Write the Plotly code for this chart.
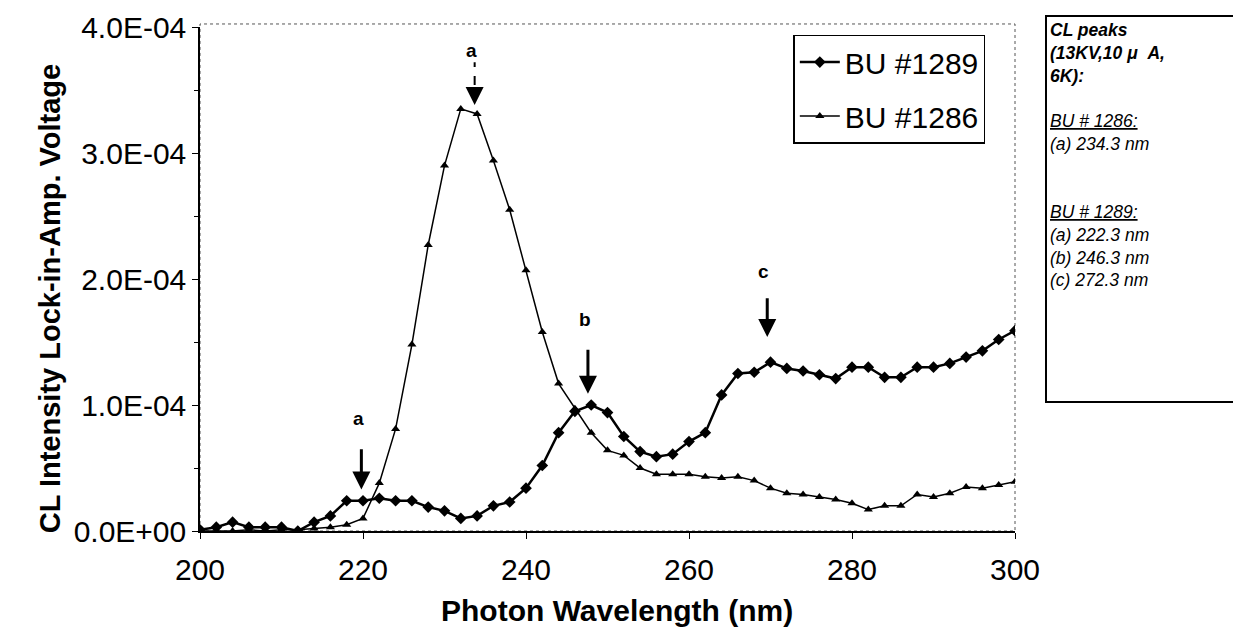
import plotly.graph_objects as go

wavelength = [200, 202, 204, 206, 208, 210, 212, 214, 216, 218, 220, 222, 224, 226, 228,
              230, 232, 234, 236, 238, 240, 242, 244, 246, 248, 250, 252, 254, 256, 258,
              260, 262, 264, 266, 268, 270, 272, 274, 276, 278, 280, 282, 284, 286, 288,
              290, 292, 294, 296, 298, 300]

# values in units of 1e-5 V
bu1289 = [0.1, 0.3, 0.7, 0.3, 0.3, 0.3, 0.0, 0.7, 1.2, 2.4, 2.4, 2.6, 2.4, 2.4, 1.9,
          1.6, 1.0, 1.2, 2.0, 2.3, 3.4, 5.2, 7.8, 9.5, 10.0, 9.4, 7.5, 6.3, 5.9, 6.1,
          7.1, 7.8, 10.8, 12.5, 12.6, 13.4, 12.9, 12.7, 12.4, 12.1, 13.0, 13.0, 12.2, 12.2, 13.0,
          13.0, 13.3, 13.8, 14.3, 15.2, 15.9]
bu1286 = [0.0, 0.0, 0.0, 0.1, 0.0, 0.1, 0.1, 0.2, 0.3, 0.5, 1.0, 3.8, 8.1, 14.8, 22.7,
          29.0, 33.5, 33.1, 29.4, 25.5, 20.7, 15.8, 11.7, 9.7, 7.8, 6.4, 6.0, 5.0, 4.5, 4.5,
          4.5, 4.3, 4.2, 4.3, 4.0, 3.4, 3.0, 2.9, 2.7, 2.5, 2.2, 1.7, 2.0, 2.0, 2.9,
          2.7, 3.0, 3.5, 3.4, 3.65, 3.9]
scale = 1e-5

ytick_vals = [0, 1e-4, 2e-4, 3e-4, 4e-4]
ytick_text = ["0.0E+00", "1.0E-04", "2.0E-04", "3.0E-04", "4.0E-04"]
xtick_vals = [200, 220, 240, 260, 280, 300]

FONT = "Liberation Sans, Arial, sans-serif"

fig = go.Figure()
fig.add_trace(go.Scatter(
    x=wavelength, y=[v * scale for v in bu1289], name="BU #1289", legendgroup="a",
    mode="lines+markers", line=dict(color="black", width=2.5),
    marker=dict(symbol="diamond", size=9, color="black")))
fig.add_trace(go.Scatter(
    x=wavelength, y=[v * scale for v in bu1286], name="BU #1286", legendgroup="b",
    mode="lines+markers", line=dict(color="black", width=1.5),
    marker=dict(symbol="triangle-up", size=8, color="black")))

# arrows (tip x, tip y, tail y) and labels
arrows = [
    (219.8, 3.3e-5, 6.6e-5, "a", 8.9e-5),
    (247.6, 10.9e-5, 14.5e-5, "b", 16.8e-5),
    (269.6, 15.4e-5, 18.6e-5, "c", 20.6e-5),
]
annotations = []
for xt, yt, ytail, lab, ylab in arrows:
    annotations.append(dict(x=xt, y=yt, ax=xt, ay=ytail, xref="x", yref="y",
                            axref="x", ayref="y", text="", showarrow=True,
                            arrowhead=2, arrowsize=1.2, arrowwidth=3, arrowcolor="black"))
    annotations.append(dict(x=xt - 0.4, y=ylab, xref="x", yref="y", text="<b>%s</b>" % lab,
                            showarrow=False, font=dict(size=19, family=FONT, color="black")))

# top "a" arrow with dashed stem
annotations.append(dict(x=233.7, y=33.8e-5, ax=233.7, ay=35.3e-5, xref="x", yref="y",
                        axref="x", ayref="y", text="", showarrow=True,
                        arrowhead=2, arrowsize=1.2, arrowwidth=3, arrowcolor="black"))
annotations.append(dict(x=233.3, y=38.1e-5, xref="x", yref="y", text="<b>a</b>",
                        showarrow=False, font=dict(size=19, family=FONT, color="black")))

box_text = ("<b><i>CL peaks<br>(13KV,10 \u03bc  A,<br>6K):</i></b><br><br>"
            "<i><u>BU # 1286:</u><br>(a) 234.3 nm<br><br><br>"
            "<u>BU # 1289:</u><br>(a) 222.3 nm<br>(b) 246.3 nm<br>(c) 272.3 nm</i>")
annotations.append(dict(x=1.0368, y=1.024, xref="paper", yref="paper", xanchor="left",
                        yanchor="top", text=box_text, showarrow=False, align="left",
                        valign="top", width=200, height=378, borderwidth=2, bordercolor="black",
                        borderpad=3, bgcolor="white",
                        font=dict(size=17.5, family=FONT, color="black")))

# axis titles placed as annotations
annotations.append(dict(x=-0.206, y=0.46, xref="paper", yref="paper", textangle=-90,
                        text="<b>CL Intensity Lock-in-Amp. Voltage</b>", showarrow=False,
                        font=dict(size=29, family=FONT, color="black")))
annotations.append(dict(x=0.512, y=-0.158, xref="paper", yref="paper", yanchor="middle",
                        text="<b>Photon Wavelength (nm)</b>", showarrow=False,
                        font=dict(size=30, family=FONT, color="black")))

shapes = [
    dict(type="line", xref="x", yref="y", x0=233.7, x1=233.7, y0=35.4e-5, y1=37.2e-5,
         line=dict(color="black", width=2, dash="dash")),
    dict(type="rect", xref="paper", yref="paper", x0=0, x1=1, y0=0, y1=1.006,
         line=dict(color="#555", width=1, dash="dot"), layer="below"),
]

fig.update_layout(
    width=1233, height=629,
    margin=dict(l=200, r=218, t=27, b=98, autoexpand=False),
    paper_bgcolor="white", plot_bgcolor="white",
    font=dict(family=FONT, color="black"),
    showlegend=True,
    legend=dict(x=0.728, y=0.985, xanchor="left", yanchor="top",
                bordercolor="black", borderwidth=1.5, bgcolor="white",
                font=dict(size=30, family=FONT, color="black"),
                tracegroupgap=12, itemwidth=40),
    annotations=annotations,
    shapes=shapes,
)
fig.update_xaxes(range=[200, 300], tickvals=xtick_vals, showline=True, linecolor="black",
                 linewidth=1.5, ticks="outside", ticklen=6, tickcolor="black",
                 showgrid=False, zeroline=False, ticklabelstandoff=5,
                 tickfont=dict(size=30, family=FONT))
fig.update_yaxes(range=[0, 4e-4], tickvals=ytick_vals, ticktext=ytick_text, showline=True,
                 linecolor="black", linewidth=1.5, ticks="outside", ticklen=6,
                 tickcolor="black", showgrid=False, zeroline=False,
                 minor=dict(dtick=5e-5, ticks="outside", ticklen=4, tickcolor="black"),
                 tickfont=dict(size=30, family=FONT))

fig.write_html("out.html")
